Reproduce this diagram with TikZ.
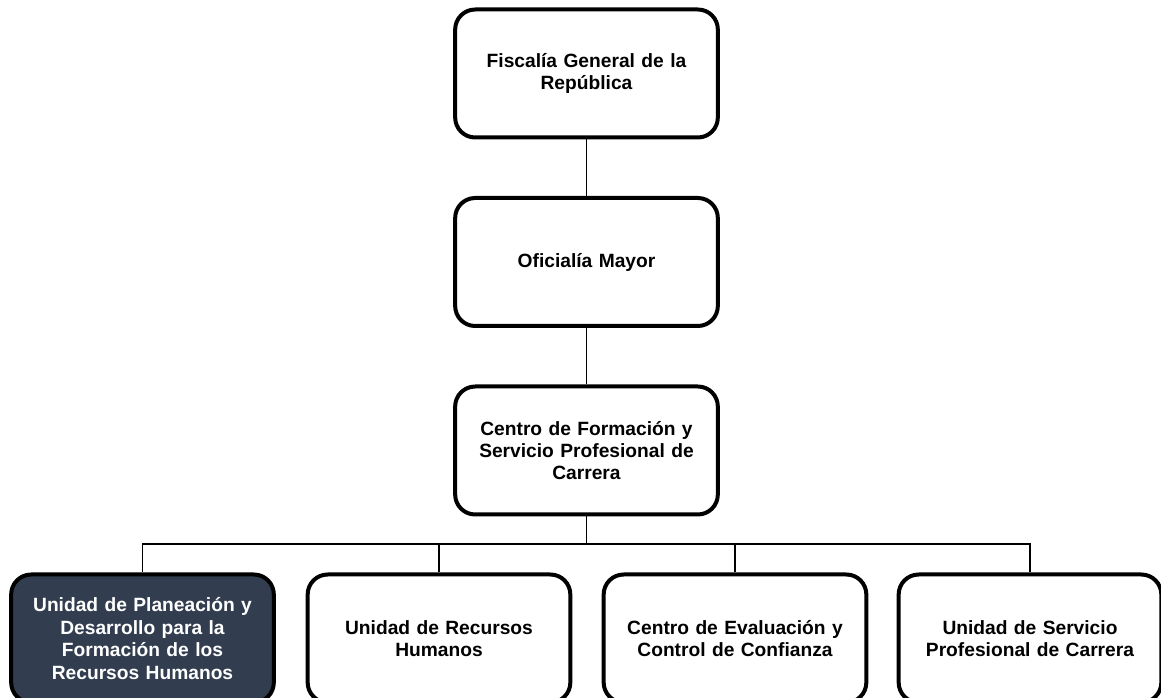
\documentclass[tikz,border=0pt]{standalone}
\usepackage{fontspec}
\setmainfont{Liberation Sans}
\definecolor{navy}{HTML}{323E4F}
\begin{document}
\begin{tikzpicture}[x=0.75pt, y=-0.75pt,
    unit/.style={draw, line width=3pt, rounded corners=15pt, fill=white,
      minimum width=197pt, minimum height=96pt, align=center,
      text width=188pt, font=\bfseries\fontsize{14.4}{16.8}\selectfont},
    dark/.style={fill=navy, text=white}]
    \useasboundingbox (0,0) rectangle (1161,698);
    \clip (0,0) rectangle (1161,698);
    \coordinate (bus) at (586.5,544);
    \begin{scope}[every node/.style={unit}]
      \node (fgr) at (586.5,73.5) {Fiscalía General de la\\República};
      \node (om) at (586.5,262) {Oficialía Mayor};
      \node (cfsp) at (586.5,450.5) {Centro de Formación y\\Servicio
        Profesional de\\Carrera};
      \node [dark] (upd) at (142.5,638.5) {Unidad de Planeación y\\Desarrollo
        para la\\Formación de los\\Recursos Humanos};
      \node (urh) at (439,638.5) {Unidad de Recursos\\Humanos};
      \node (cecc) at (735,638.5) {Centro de Evaluación y\\Control de
        Confianza};
      \node (uspc) at (1030,638.5) {Unidad de Servicio\\Profesional de
        Carrera};
    \end{scope}
    \begin{scope}[line width=1.1pt]
      \draw (fgr) -- (om); \draw (om) -- (cfsp); \draw (cfsp) --
      (bus);
      \foreach \u in {upd,urh,cecc,uspc} \draw (bus) -| (\u);
    \end{scope}
  \end{tikzpicture}
\end{document}
